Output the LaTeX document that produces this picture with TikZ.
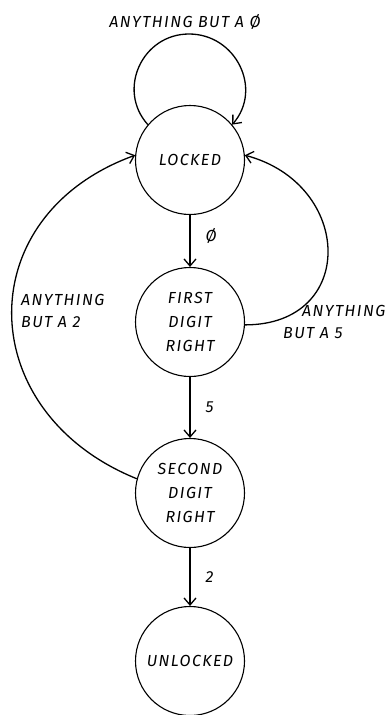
\documentclass[tikz,border=0pt]{standalone}
\usepackage{fontspec}
\newfontfamily\hand[LetterSpace=9]{Fira Sans}
\usetikzlibrary{arrows.meta}
\begin{document}
\begin{tikzpicture}[x=1pt,y=1pt,
  state/.style={circle,draw,line width=1.1pt,minimum size=109pt,inner sep=0pt,align=center,
    font=\hand\itshape\fontsize{16}{24}\selectfont},
  lbl/.style={font=\hand\itshape\fontsize{16}{22}\selectfont,inner sep=0pt},
  arr/.style={line width=1.3pt,-{Straight Barb[length=7pt,width=12pt,line width=1.3pt]}}]
\useasboundingbox (0,0) rectangle (390,-715);
\node[state] (L) at (190,-160) {LOCKED};
\node[state] (F) at (190,-322) {FIRST\\DIGIT\\RIGHT};
\node[state] (S) at (190,-493) {SECOND\\DIGIT\\RIGHT};
\node[state] (U) at (190,-661) {UNLOCKED};
\draw[arr] (L) -- node[lbl,right=15pt,pos=0.4]{Ø} (F);
\draw[arr] (F) -- node[lbl,right=15pt]{5} (S);
\draw[arr] (S) -- node[lbl,right=15pt]{2} (U);
\coordinate (looptop) at (189,-34);
\draw[arr] (L.140) to[out=132,in=180,looseness=1.2] (looptop) to[out=0,in=49,looseness=1.2] (L.40);
\node[lbl] (t) at (185,-22) {ANYTHING BUT A Ø};
\draw[arr] (F.-3) to[out=0,in=-15,looseness=1.7] (L.5);
\node[lbl,anchor=west,align=left] (r5) at (283,-322) {\hspace*{19pt}ANYTHING\\BUT A 5};
\draw[arr] (S.165) to[out=158,in=200,looseness=1.4] (L.175);
\node[lbl,anchor=west,align=left] (l2) at (21,-311) {ANYTHING\\BUT A 2};
\end{tikzpicture}
\end{document}
